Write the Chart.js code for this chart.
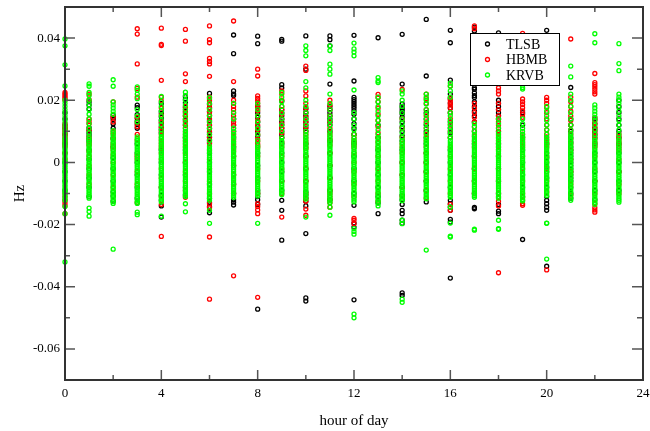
<!DOCTYPE html>
<html>
<head>
<meta charset="utf-8">
<script src="https://cdn.jsdelivr.net/npm/chart.js@4/dist/chart.umd.min.js"></script>
<style>
  html, body { margin: 0; padding: 0; background: #fff; }
  #wrap { width: 650px; height: 431px; }
</style>
</head>
<body>
<div id="wrap"><canvas id="c" width="650" height="431"></canvas></div>
<script>
// ---------- DATA (values in mHz, one inner array per hour of day) ----------
const hours = [0,1,2,3,4,5,6,7,8,9,10,11,12,13,14,15,16,17,18,19,20,21,22,23];
const seriesNames = ['TLSB', 'HBMB', 'KRVB'];
const HZ_PER_MHZ = 0.001;

const tlsb = [
  [16,14,12,11,9,6,3,0,-3,-6,-9],
  [19.5,18.5,17.2,11.2,10.3,9.4,8.5,7.5,6.8,4,1,-2,-5,-8,-11],
  [15.2,14.5,13.8,12.4,11,7.8,5,1.5,-2,-6,-9.5,-10.8,-12.5],
  [18.4,17.6,15.4,14.2,13.3,12.2,11,6,3,0,-4,-8,-11.5],
  [19,16.5,15.8,14.6,13.6,12.6,11.5,10.6,9.6,4,0,-4,-8,-10.6,-12.2,-14,-17.6],
  [21.2,20.3,19.2,17.7,16.4,15,13.6,12,8,4,0,-4,-8,-10.5],
  [22.2,18.8,17.5,16.3,15,13.4,12,10.8,9.6,8.2,7.3,6.4,3,0,-3,-7,-11.5,-12.8,-14.2,-16.2],
  [41,35,23,22,21.5,14,12,10,8,5,2,-1,-4,-7,-10,-12,-12.8,-13.7],
  [40.6,38.2,18,16,14.5,13,11.5,10,8.5,3,-1,-5,-9,-10,-11,-12,-13.5,-47.2],
  [39.6,39,25,24,19.8,17,16,15,14,13,12,11,10,9,8,6,3,0,-3,-6,-9,-12.2,-15.4,-25],
  [40.7,30,17.2,16,15,14,13,12,11,10,6,2,-2,-6,-9.5,-10.5,-11.5,-12.5,-14,-22.9,-43.6,-44.6],
  [40.7,39.5,37.5,25.2,18,17,16,15,14,13,12,10,7,3,-1,-5,-9,-12],
  [40.9,26.2,20.9,20.2,19.5,18.8,18.1,17.4,16.6,15.5,14,12.5,11,9,6,2,-2,-6,-10,-13.8,-19.5,-20.8,-44.2],
  [40.1,12,8,4,0,-4,-8,-11,-13,-16.5],
  [41.2,25.2,18.8,18,17.2,16.4,15.6,14.5,13,11.5,10,8.5,7,4,0,-4,-8,-10.5,-12,-13.5,-15.4,-16.5,-18.6,-19.6,-42,-42.8],
  [46,27.8,16,14,12,10,8,6,3,0,-3,-6,-9,-12.7],
  [42.5,38.5,26.5,22,20.5,19,17.5,16,13,11,9.5,8,4,0,-4,-8,-12.2,-13.3,-14.4,-15.4,-18.3,-19.2,-37.2],
  [43.5,42.3,24,23.5,22.4,21.5,20.9,19.5,18,16.5,15,13,10,6,2,-2,-6,-10,-14.5,-14.9],
  [41.7,20,19,18,17,16,15,14,10,6,2,-2,-6,-10,-13.5,-15.7,-16.5],
  [16,12,8,4,0,-4,-8,-11,-24.8],
  [42.5,6,3,1.5,0,-1.5,-3,-5,-8,-11,-12.2,-13.3,-14.4,-15.4,-33.4],
  [24.1,14,12,10,8,6.5,5,4,3,2,1,0,-1,-2,-3,-4,-5,-6,-8,-10,-11.5],
  [14,12.5,11,10,9,8,6,3,0,-3,-6,-9,-12],
  [20,18,16,14,12,10,8,6,3,0,-3,-6,-9]
];

const hbmb = [
  [22.5,22,21.5,21,20.5,20,12.5,12,11.5,11,10.5,10,9.5,9,8.5,8,7.5,7,6.5,6,5.5,5,3,1,-10,-11,-12,-12.5,-13.3,-14,-16.5],
  [22,20.2,14,13.2,12.4,10.5,8,6.2,5.5,3.5,2,-1,-4,-7],
  [19.5,14.5,13,10,9.2,7.5,6.2,5.5,4.8,4,2.5,0,-4,-8],
  [43,41.3,31.7,23.8,21,14.5,12.8,11.5,9,7.2,2.3,1.7,0.9,-3,-7,-12.9],
  [43.2,38,37.6,26.4,21,19.8,17.5,15.2,13,11.2,10,9,8,7.1,6.2,5.3,4.5,3,1,-2,-5,-8,-11,-13.5,-23.8],
  [42.8,39,28.5,26,18,17,16,15,14,13,12,11,10,9,8,7,6,5,3,0,-3,-6,-9,-11.2],
  [43.9,39.5,38.5,33.5,32.5,31.7,27.7,21,20.4,19.8,18.6,17.5,16.3,15.2,14,13,12,11,10,9,8,7,6,4,1,-2,-6,-10,-13.3,-14.5,-24,-44],
  [45.5,26,20,19,18,17,16,15,14,13,12,11,10,9.2,8.4,7.6,6.8,6,5.2,4.4,3.6,2,-1,-4,-7,-10,-36.5],
  [30,27.8,21.4,20.6,19.8,19,18.2,17.4,16.6,15,13.5,12,10.5,9,7.5,6.8,6,5.4,4.9,2,-2,-6,-10,-13.3,-14.2,-15.3,-16.5,-43.4],
  [23,22,20,18,17,15.5,14,12.5,11,9.5,8,6.5,5,2,-2,-6,-10,-17.6],
  [31,29.6,23,21.4,19,17.5,16,14.5,13,11.5,10,9,8,7,6,5,4.5,2,-2,-6,-10,-11.5,-12.5,-15,-17],
  [20,18.5,17,15,13,11,9.5,8.5,7.5,6.5,5.5,3,-1,-5,-9,-10,-11,-12,-13,-14.4],
  [9,8,7,6.5,5.5,4.8,3,0,-3,-7,-11,-18,-18.6,-19.7],
  [21.9,20.9,19.5,17.5,15.5,13.5,11.5,9.5,8,6.5,5,2,-2,-6,-10,-12.5],
  [23.5,14,11,8,6,4.9,3,0,-4,-8,-11],
  [22,20.5,19,17,15,13,11,9,7,5,3,0,-3,-6,-9,-11.5],
  [24.6,20.8,20,19.2,18.4,17.6,16,14,12,10,8,5,2,-2,-6,-10,-13.5,-15.4],
  [43.9,43,19,17.5,16,14.5,13,11.5,10,8.5,7,5,2,-2,-6,-10],
  [24,23,22,19,17,15,14,13,12,11,10,9,8,7,6,5,4,2,-2,-6,-10,-11.2,-12.5,-14,-35.5],
  [41.5,20.4,19.5,18.6,17.6,16.6,15.5,14.5,9.1,8.2,7.3,6.4,5.6,4.9,2,-2,-6,-10,-11.2,-12.2,-13.3,-13.8],
  [20.9,20,19,17.7,16,14,12,10.5,9.1,8.2,7.3,6.4,5.6,4.9,2,-2,-6,-9.5,-34.6],
  [39.7,21,19.5,18,16.5,15,13.5,12,10.5,9,7.5,6,4,1,-3,-7,-10.5],
  [28.6,25.7,25,24.3,23.5,22.7,22,14.5,13.5,12.5,11.5,10.5,9.5,8.5,7.5,6.5,5.5,5,2,-2,-6,-10,-13.3,-14.5,-15.3,-16],
  [9.1,8.3,7.5,6.7,5.9,5.2,4.5,3.8,1,-3,-7,-10]
];

const krvb = [
  [39.7,37.5,31.4,24.6,20,19,18,17,16,15,14,13,12,11,10,9,8,7.4,6.8,6.2,5.6,5,4.4,3.8,3.2,2.6,2,1.4,0.8,0.2,-0.4,-1,-1.6,-2.2,-2.8,-3.4,-4,-4.6,-5.2,-5.8,-6.4,-7,-7.6,-8.2,-8.8,-9.4,-10,-10.8,-11.5,-12.2,-14.2,-16.5,-32],
  [25.3,24.5,22.5,21.5,20,18.5,17,15.5,14,12.5,11,9.5,8.3,7.6,7,6.4,5.8,5.2,4.6,4,3.4,2.8,2.2,1.6,1,0.4,-0.2,-0.8,-1.4,-2,-2.6,-3.2,-3.8,-4.4,-5,-5.6,-6.2,-6.8,-7.4,-8,-8.6,-9.2,-9.8,-10.4,-11,-11.5,-14.7,-15.8,-17.3],
  [26.6,24.5,19.5,18.5,17.5,16.5,15.5,10.2,9.6,9,8.4,7.8,7.2,6.6,6,5.4,4.8,4.2,3.6,3,2.4,1.8,1.2,0.6,0,-0.6,-1.2,-1.8,-2.4,-3,-3.6,-4.2,-4.8,-5.4,-6,-6.6,-7.2,-7.8,-8.4,-9,-9.6,-10.2,-10.8,-11.4,-12,-12.6,-13.2,-27.9],
  [24.3,23.2,22,20.5,17,15,13,8.2,7.6,7,6.4,5.8,5.2,4.6,4,3.4,2.8,2.2,1.6,1,0.4,-0.2,-0.8,-1.4,-2,-2.6,-3.2,-3.8,-4.4,-5,-5.6,-6.2,-6.8,-7.4,-8,-8.6,-9.2,-9.8,-10.4,-11,-11.6,-12.2,-12.8,-13.2,-16,-16.8],
  [21.2,19.5,18,16.5,15,13.5,12,10.5,9.3,8.3,7.7,7.1,6.5,5.9,5.3,4.7,4.1,3.5,2.9,2.3,1.7,1.1,0.5,-0.1,-0.7,-1.3,-1.9,-2.5,-3.1,-3.7,-4.3,-4.9,-5.5,-6.1,-6.7,-7.3,-7.9,-8.5,-9.1,-9.7,-10.3,-10.9,-11.5,-12.1,-12.7,-17.3],
  [22.6,21.5,20,18.5,17,15.5,14,12.5,11,10,9.4,8.8,8.2,7.6,7,6.4,5.8,5.2,4.6,4,3.4,2.8,2.2,1.6,1,0.4,-0.2,-0.8,-1.4,-2,-2.6,-3.2,-3.8,-4.4,-5,-5.6,-6.2,-6.8,-7.4,-8,-8.6,-9.2,-9.8,-10.4,-11,-13.3,-15.9],
  [20.8,19,17,15,13,11,9,7,5.2,4.6,4,3.4,2.8,2.2,1.6,1,0.4,-0.2,-0.8,-1.4,-2,-2.6,-3.2,-3.8,-4.4,-5,-5.6,-6.2,-6.8,-7.4,-8,-8.6,-9.2,-9.8,-10.4,-11,-11.6,-12.2,-15.4,-19.6],
  [19,16,14,11,10,9,8.2,7.4,6.6,5.8,5,4.3,3.7,3.1,2.5,1.9,1.3,0.7,0.1,-0.5,-1.1,-1.7,-2.3,-2.9,-3.5,-4.1,-4.7,-5.3,-5.9,-6.5,-7.1,-7.7,-8.3,-8.9,-9.5,-10.1,-10.7,-11.3],
  [19,17,15,13,11,9,7,5.5,4.8,4.2,3.6,3,2.4,1.8,1.2,0.6,0,-0.6,-1.2,-1.8,-2.4,-3,-3.6,-4.2,-4.8,-5.4,-6,-6.6,-7.2,-7.8,-8.4,-9,-9.6,-10.2,-10.8,-19.6],
  [22.5,21,19.5,18,16,14,12,10,8,7,6.4,5.8,5.2,4.6,4,3.4,2.8,2.2,1.6,1,0.4,-0.2,-0.8,-1.4,-2,-2.6,-3.2,-3.8,-4.4,-5,-5.6,-6.2,-6.8,-7.4,-8,-8.6,-9.2,-9.8,-10.4],
  [37.5,36,34.3,26,24,20,18,16,14,12,10,9,8.2,7.5,6.8,6.2,5.6,5,4.4,3.8,3.2,2.6,2,1.4,0.8,0.2,-0.4,-1,-1.6,-2.2,-2.8,-3.4,-4,-4.6,-5.2,-5.8,-6.4,-7,-7.6,-8.2,-8.8,-9.4,-10,-10.6,-11.2,-11.8,-17.6],
  [37.5,36,31.6,30,28.4,22,19,17,15,13.5,12,10.5,9.3,8.6,8,7.4,6.8,6.2,5.6,5,4.4,3.8,3.2,2.6,2,1.4,0.8,0.2,-0.4,-1,-1.6,-2.2,-2.8,-3.4,-4,-4.6,-5.2,-5.8,-6.4,-7,-7.6,-8.2,-8.8,-9.4,-10,-10.6,-11.2,-11.8,-12.4,-13,-14.4,-17],
  [38.4,36.5,35.5,34.3,23.3,16,14,12,10.5,9,7.8,7.1,6.5,5.9,5.3,4.7,4.1,3.5,2.9,2.3,1.7,1.1,0.5,-0.1,-0.7,-1.3,-1.9,-2.5,-3.1,-3.7,-4.3,-4.9,-5.5,-6.1,-6.7,-7.3,-7.9,-8.5,-9.1,-9.7,-10.3,-10.9,-11.5,-12.1,-12.7,-21.3,-22.2,-23.1,-48.8,-50],
  [27.3,26.2,25.7,21,19.5,18,16.5,15,13.5,12,10.5,9,8,7.3,6.7,6.1,5.5,4.9,4.3,3.7,3.1,2.5,1.9,1.3,0.7,0.1,-0.5,-1.1,-1.7,-2.3,-2.9,-3.5,-4.1,-4.7,-5.3,-5.9,-6.5,-7.1,-7.7,-8.3,-8.9,-9.5,-10.1,-10.7,-11.3,-11.9,-12.5,-13.1,-14],
  [23,22,20,18,16,14,12.5,11,9.5,8,7,6.3,5.7,5.1,4.5,3.9,3.3,2.7,2.1,1.5,0.9,0.3,-0.3,-0.9,-1.5,-2.1,-2.7,-3.3,-3.9,-4.5,-5.1,-5.7,-6.3,-6.9,-7.5,-8.1,-8.7,-9.3,-9.9,-10.5,-11.1,-11.7,-12.3,-18.6,-19.7,-44,-45],
  [22,21,20,18.8,17,15.5,14,12.5,11,9.5,8.2,7.5,6.9,6.3,5.7,5.1,4.5,3.9,3.3,2.7,2.1,1.5,0.9,0.3,-0.3,-0.9,-1.5,-2.1,-2.7,-3.3,-3.9,-4.5,-5.1,-5.7,-6.3,-6.9,-7.5,-8.1,-8.7,-9.3,-9.9,-10.5,-11.1,-11.7,-28.2],
  [25.5,24.5,23,21,16,15,13.4,12.3,11.2,10.1,9.1,8,7,6.3,5.6,4.9,4.3,3.7,3.1,2.5,1.9,1.3,0.7,0.1,-0.5,-1.1,-1.7,-2.3,-2.9,-3.5,-4.1,-4.7,-5.3,-5.9,-6.5,-7.1,-7.7,-8.3,-8.9,-9.5,-10.1,-10.7,-11.2,-14.4,-19.5,-23.7,-24],
  [12.5,11.5,10,9,8.2,7.5,6.8,6.1,5.5,4.9,4.3,3.7,3.1,2.5,1.9,1.3,0.7,0.1,-0.5,-1.1,-1.7,-2.3,-2.9,-3.5,-4.1,-4.7,-5.3,-5.9,-6.5,-7.1,-7.7,-8.3,-8.9,-9.5,-10.1,-10.7,-11.2,-21.5,-21.8],
  [14,12.5,11,9.5,8.5,7.8,7.1,6.5,5.9,5.3,4.7,4.1,3.5,2.9,2.3,1.7,1.1,0.5,-0.1,-0.7,-1.3,-1.9,-2.5,-3.1,-3.7,-4.3,-4.9,-5.5,-6.1,-6.7,-7.3,-7.9,-8.5,-9.1,-9.7,-10.3,-10.9,-11.5,-18.6,-21.3,-21.5],
  [24.1,23.6,14,12.5,11,10,9,8.2,7.5,6.8,6.1,5.5,4.9,4.3,3.7,3.1,2.5,1.9,1.3,0.7,0.1,-0.5,-1.1,-1.7,-2.3,-2.9,-3.5,-4.1,-4.7,-5.3,-5.9,-6.5,-7.1,-7.7,-8.3,-8.9,-9.5,-10.1,-10.7,-11.3,-11.9,-12.4],
  [18,16.5,15,13.5,12,10.5,9,8,7.3,6.7,6.1,5.5,4.9,4.3,3.7,3.1,2.5,1.9,1.3,0.7,0.1,-0.5,-1.1,-1.7,-2.3,-2.9,-3.5,-4.1,-4.7,-5.3,-5.9,-6.5,-7.1,-7.7,-8.3,-8.9,-9.5,-10.1,-10.7,-19.5,-19.6,-31.1],
  [31,27.5,22,20,18,16,14,12,10.5,9.3,8.5,7.8,7.1,6.5,5.9,5.3,4.7,4.1,3.5,2.9,2.3,1.7,1.1,0.5,-0.1,-0.7,-1.3,-1.9,-2.5,-3.1,-3.7,-4.3,-4.9,-5.5,-6.1,-6.7,-7.3,-7.9,-8.5,-9.1,-9.7,-10.3,-10.9,-11.5,-12.2],
  [41.4,38.5,18.5,17.5,16.5,15.5,14.5,13.5,12,10.5,9,7.8,7.1,6.4,5.7,5.1,4.5,3.9,3.3,2.7,2.1,1.5,0.9,0.3,-0.3,-0.9,-1.5,-2.1,-2.7,-3.3,-3.9,-4.5,-5.1,-5.7,-6.3,-6.9,-7.5,-8.1,-8.7,-9.3,-9.9,-10.5,-11.1,-11.7,-12.3,-12.9,-13.5],
  [38.2,31.8,29.5,22,21,20,19,17.7,16.5,15,13.5,12,10.5,9,7.8,7.1,6.4,5.7,5.1,4.5,3.9,3.3,2.7,2.1,1.5,0.9,0.3,-0.3,-0.9,-1.5,-2.1,-2.7,-3.3,-3.9,-4.5,-5.1,-5.7,-6.3,-6.9,-7.5,-8.1,-8.7,-9.3,-9.9,-10.5,-11.1,-11.7,-12.2,-12.8]
];

// ---------- tick labels ----------
const xTickValues = [0, 4, 8, 12, 16, 20, 24];
const xTickLabels = ['0', '4', '8', '12', '16', '20', '24'];
const xMinorTicks = [2, 6, 10, 14, 18, 22];
const yTickValues = [-0.06, -0.04, -0.02, 0, 0.02, 0.04];
const yTickLabels = ['-0.06', '-0.04', '-0.02', '0', '0.02', '0.04'];
const yMinorTicks = [-0.05, -0.03, -0.01, 0.01, 0.03];

// ---------- build ----------
function toPoints(series) {
  const pts = [];
  series.forEach((vals, i) => vals.forEach(v => pts.push({ x: hours[i], y: v * HZ_PER_MHZ })));
  return pts;
}
const seriesData = [tlsb, hbmb, krvb];
const seriesColors = ['#000000', '#ff0000', '#00ff00'];
const drawOrder = [3, 2, 1];

const SERIF = "'Liberation Serif', 'DejaVu Serif', serif";

function labelFor(values, labels, v) {
  for (let i = 0; i < values.length; i++) {
    if (Math.abs(values[i] - v) < 1e-9) return labels[i];
  }
  return '';
}

const framePlugin = {
  id: 'frameTicks',
  afterDatasetsDraw(chart) {
    const ctx = chart.ctx;
    const a = chart.chartArea;
    const xs = chart.scales.x, ys = chart.scales.y;
    ctx.save();
    // ticks
    ctx.strokeStyle = '#555';
    ctx.lineWidth = 1.5;
    ctx.beginPath();
    const tick = (x1, y1, x2, y2) => { ctx.moveTo(x1, y1); ctx.lineTo(x2, y2); };
    xTickValues.forEach(v => { const p = xs.getPixelForValue(v); tick(p, a.bottom, p, a.bottom - 10); tick(p, a.top, p, a.top + 10); });
    xMinorTicks.forEach(v => { const p = xs.getPixelForValue(v); tick(p, a.bottom, p, a.bottom - 5); tick(p, a.top, p, a.top + 5); });
    yTickValues.forEach(v => { const p = ys.getPixelForValue(v); tick(a.left, p, a.left + 10, p); tick(a.right, p, a.right - 11, p); });
    yMinorTicks.forEach(v => { const p = ys.getPixelForValue(v); tick(a.left, p, a.left + 5, p); tick(a.right, p, a.right - 6, p); });
    ctx.stroke();
    // frame
    ctx.strokeStyle = '#333';
    ctx.lineWidth = 2;
    ctx.strokeRect(a.left, a.top, a.right - a.left, a.bottom - a.top);
    // legend box
    const bx = 470, by = 33, bw = 89, bh = 52;
    ctx.fillStyle = '#fff';
    ctx.fillRect(bx, by, bw, bh);
    ctx.strokeStyle = '#000';
    ctx.lineWidth = 1;
    ctx.strokeRect(bx + 0.5, by + 0.5, bw, bh);
    ctx.font = "14px " + SERIF;
    ctx.textBaseline = 'middle';
    ctx.textAlign = 'left';
    const rows = [44, 59.5, 75];
    seriesNames.forEach((name, i) => {
      ctx.strokeStyle = seriesColors[i];
      ctx.lineWidth = 1.3;
      ctx.beginPath();
      ctx.arc(487.5, rows[i], 2, 0, Math.PI * 2);
      ctx.stroke();
      ctx.fillStyle = '#000';
      ctx.fillText(name, 506, rows[i] + 1);
    });
    ctx.restore();
  }
};

new Chart(document.getElementById('c'), {
  type: 'scatter',
  data: {
    datasets: seriesNames.map((name, i) => ({
      label: name,
      data: toPoints(seriesData[i]),
      borderColor: seriesColors[i],
      backgroundColor: 'rgba(0,0,0,0)',
      pointRadius: 2,
      pointBorderWidth: 1.3,
      pointHoverRadius: 2,
      order: drawOrder[i],
      clip: false
    }))
  },
  options: {
    responsive: false,
    animation: false,
    devicePixelRatio: 1,
    events: [],
    layout: { padding: { top: 7, right: 7, left: 0, bottom: 0 } },
    plugins: { legend: { display: false }, tooltip: { enabled: false } },
    scales: {
      x: {
        type: 'linear',
        min: 0, max: 24,
        grid: { display: false, drawTicks: false },
        border: { display: false },
        ticks: {
          stepSize: 2, autoSkip: false, maxRotation: 0, padding: 6,
          color: '#000', font: { family: SERIF, size: 13 },
          callback: v => labelFor(xTickValues, xTickLabels, v)
        },
        title: { display: true, text: 'hour of day', color: '#000', font: { family: SERIF, size: 15 }, padding: { top: 0, bottom: 1 } },
        afterFit: s => { s.height = 51; s.paddingLeft = 0; s.paddingRight = 0; }
      },
      y: {
        type: 'linear',
        min: -0.07, max: 0.05,
        grid: { display: false, drawTicks: false },
        border: { display: false },
        ticks: {
          stepSize: 0.01, autoSkip: false, padding: 5,
          color: '#000', font: { family: SERIF, size: 13 },
          callback: v => labelFor(yTickValues, yTickLabels, v)
        },
        title: { display: true, text: 'Hz', color: '#000', font: { family: SERIF, size: 15 }, padding: { top: 11, bottom: 0 } },
        afterFit: s => { s.width = 65; s.paddingTop = 0; s.paddingBottom = 0; }
      }
    }
  },
  plugins: [framePlugin]
});
</script>
</body>
</html>
